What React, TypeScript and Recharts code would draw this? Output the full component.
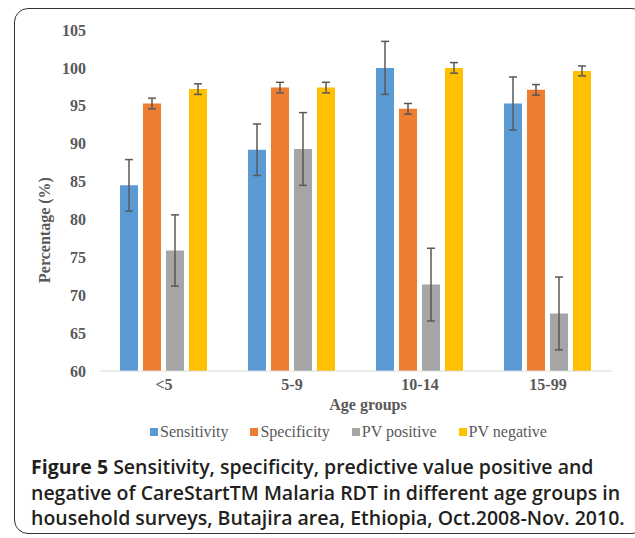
import { BarChart, Bar, XAxis, YAxis, ErrorBar, Legend } from "recharts"

const ageGroups = ["<5", "5-9", "10-14", "15-99"]

const sensitivity = [84.5, 89.2, 100, 95.3]
const specificity = [95.3, 97.4, 94.6, 97.1]
const pvPositive = [75.9, 89.3, 71.4, 67.6]
const pvNegative = [97.2, 97.4, 100, 99.6]

const sensitivityErr = [3.4, 3.4, 3.5, 3.5]
const specificityErr = [0.7, 0.7, 0.7, 0.7]
const pvPositiveErr = [4.7, 4.8, 4.8, 4.8]
const pvNegativeErr = [0.7, 0.7, 0.7, 0.65]

const yTicks = [60, 65, 70, 75, 80, 85, 90, 95, 100, 105]

const series = [
  { key: "sens", name: "Sensitivity", color: "#5B9BD5" },
  { key: "spec", name: "Specificity", color: "#ED7D31" },
  { key: "pvp", name: "PV positive", color: "#A5A5A5" },
  { key: "pvn", name: "PV negative", color: "#FFC000" },
]

const data = ageGroups.map((g, i) => ({
  group: g,
  sens: sensitivity[i],
  spec: specificity[i],
  pvp: pvPositive[i],
  pvn: pvNegative[i],
  sensErr: sensitivityErr[i],
  specErr: specificityErr[i],
  pvpErr: pvPositiveErr[i],
  pvnErr: pvNegativeErr[i],
}))

const serif = "'Liberation Serif', 'Times New Roman', serif"
const axisGray = "#595959"

function renderLegend() {
  return (
    <div
      style={{
        display: "flex",
        justifyContent: "center",
        paddingLeft: 84,
        fontFamily: serif,
        fontSize: 16,
        color: axisGray,
        lineHeight: "20px",
      }}
    >
      {series.map((s) => (
        <div key={s.key} style={{ display: "flex", alignItems: "center", marginRight: 22 }}>
          <span style={{ display: "inline-block", width: 8, height: 8, background: s.color, marginRight: 2 }} />
          <span>{s.name}</span>
        </div>
      ))}
    </div>
  )
}

export default function App() {
  return (
    <div style={{ position: "absolute", left: 0, top: 0, width: 635, height: 538, background: "#fff", overflow: "hidden" }}>
      <div
        style={{
          position: "absolute",
          left: 14,
          top: 8,
          width: 630,
          height: 524,
          border: "1.5px solid #333",
          borderRadius: 14,
        }}
      />
      <div style={{ position: "absolute", left: 0, top: 0 }}>
        <BarChart
          width={635}
          height={450}
          data={data}
          margin={{ top: 30, right: 23, bottom: 0, left: 0 }}
          barCategoryGap={20}
          barGap={5}
        >
          <XAxis
            dataKey="group"
            height={51}
            axisLine={{ stroke: "#D9D9D9", strokeWidth: 1 }}
            tickLine={false}
            tickSize={0}
            tickMargin={8}
            tick={{ fontFamily: serif, fontSize: 16, fontWeight: 700, fill: axisGray }}
            label={({ viewBox }: any) => (
              <text
                x={368}
                y={viewBox.y + 39}
                textAnchor="middle"
                fontFamily={serif}
                fontSize={16}
                fontWeight={700}
                fill={axisGray}
              >
                Age groups
              </text>
            )}
          />
          <YAxis
            width={100}
            domain={[60, 105]}
            ticks={yTicks}
            axisLine={false}
            tickLine={false}
            tickSize={0}
            tickMargin={14}
            tick={{ fontFamily: serif, fontSize: 16, fontWeight: 700, fill: axisGray }}
            label={() => (
              <text
                x={50}
                y={230}
                transform="rotate(-90, 50, 230)"
                textAnchor="middle"
                fontFamily={serif}
                fontSize={16}
                fontWeight={700}
                fill={axisGray}
              >
                Percentage (%)
              </text>
            )}
          />
          <Legend verticalAlign="bottom" height={28} content={renderLegend} wrapperStyle={{ left: 0, width: 635 }} />
          {series.map((s) => (
            <Bar key={s.key} dataKey={s.key} name={s.name} fill={s.color} isAnimationActive={false}>
              <ErrorBar dataKey={s.key + "Err"} width={4} stroke="#595959" strokeWidth={1.5} direction="y" />
            </Bar>
          ))}
        </BarChart>
      </div>
      <div
        style={{
          position: "absolute",
          left: 31,
          top: 454,
          width: 602,
          fontFamily: "'Open Sans', sans-serif",
          fontWeight: 600,
          fontSize: 19.5,
          lineHeight: "25.5px",
          color: "#231F20",
          whiteSpace: "nowrap",
        }}
      >
        <div>
          <span style={{ fontWeight: 700 }}>Figure 5</span> Sensitivity, specificity, predictive value positive and
        </div>
        <div>negative of CareStartTM Malaria RDT in different age groups in</div>
        <div>household surveys, Butajira area, Ethiopia, Oct.2008-Nov. 2010.</div>
      </div>
    </div>
  )
}
